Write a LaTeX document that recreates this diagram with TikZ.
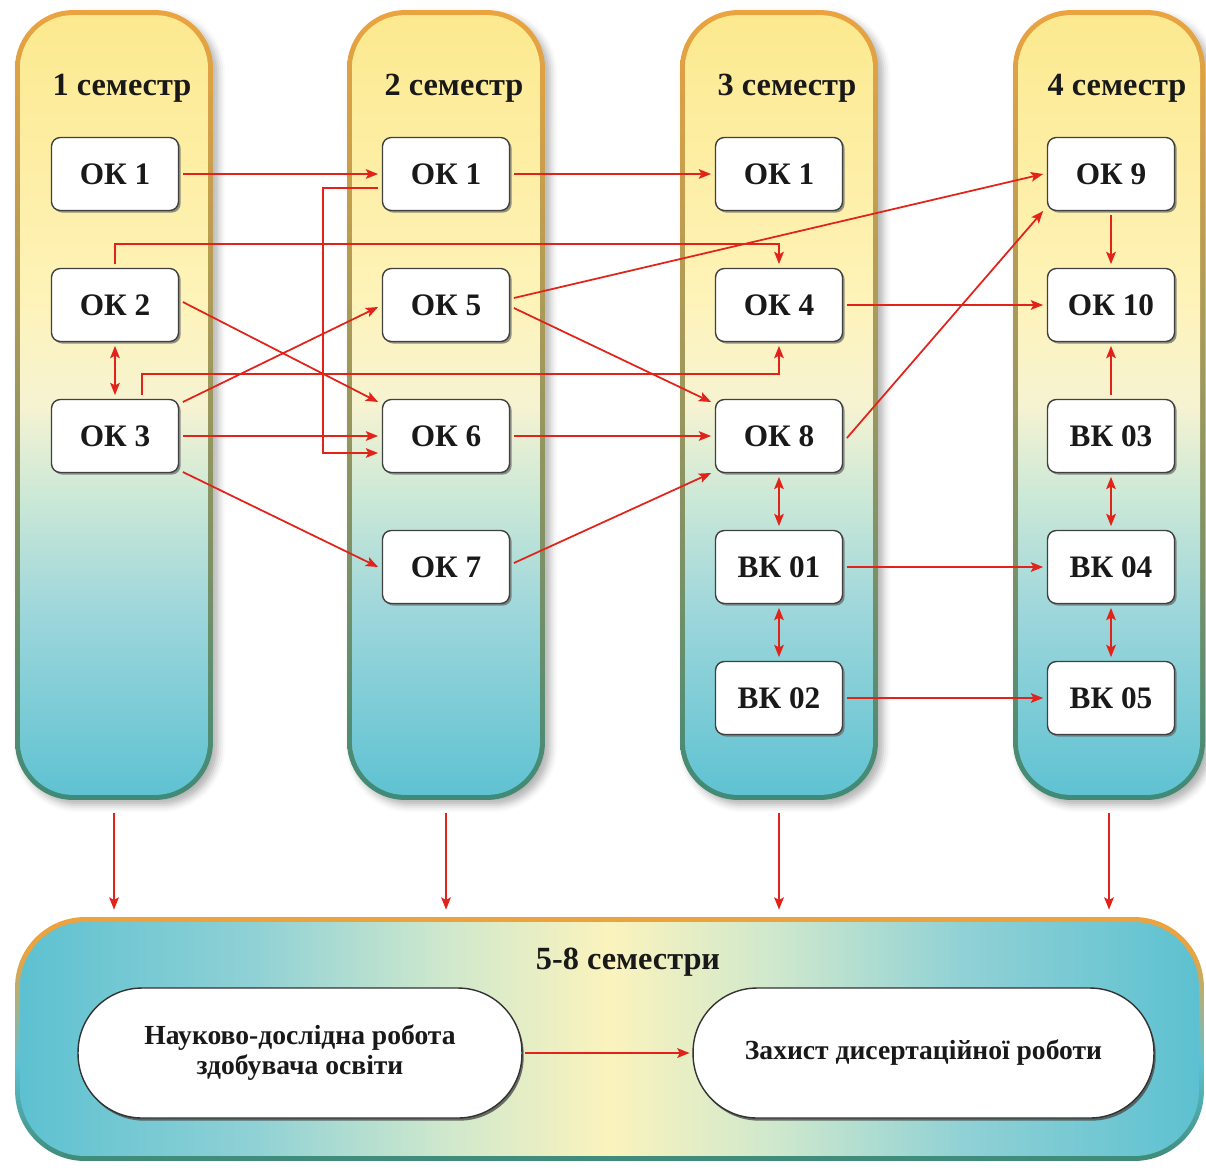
\documentclass[tikz,border=0pt]{standalone}
\usepackage{fontspec}
\setmainfont{Liberation Serif}
\usetikzlibrary{positioning,arrows.meta,shadows,shadows.blur}

\definecolor{arrred}{HTML}{E2231A}
\definecolor{cyellow}{HTML}{FCE98F}
\definecolor{clyellow}{HTML}{FEF3B8}
\definecolor{ccream}{HTML}{F6F3D2}
\definecolor{cpgreen}{HTML}{CBE8D7}
\definecolor{clblue}{HTML}{9FD7DB}
\definecolor{cteal}{HTML}{5FC2D2}
\definecolor{rimorange}{HTML}{EBA33F}
\definecolor{rimolive}{HTML}{A89A58}
\definecolor{rimmid}{HTML}{7C9166}
\definecolor{rimgreen}{HTML}{3F8A77}
\definecolor{bteal}{HTML}{5DC1D1}
\definecolor{blteal}{HTML}{90D1D5}
\definecolor{bpgreen}{HTML}{CFE8CD}
\definecolor{byellow}{HTML}{FBF3BD}

% shadings: the path fills the range 25bp..75bp
\pgfdeclareverticalshading{colshade}{100bp}{color(0bp)=(cteal); color(25bp)=(cteal); color(37bp)=(clblue); color(44bp)=(cpgreen); color(50bp)=(ccream); color(57bp)=(clyellow); color(75bp)=(cyellow); color(100bp)=(cyellow)}
\pgfdeclareverticalshading{rimshade}{100bp}{color(0bp)=(rimgreen); color(25bp)=(rimgreen); color(40bp)=(rimmid); color(55bp)=(rimolive); color(75bp)=(rimorange); color(100bp)=(rimorange)}
\pgfdeclarehorizontalshading{botshade}{100bp}{color(0bp)=(bteal); color(25bp)=(bteal); color(35bp)=(blteal); color(43bp)=(bpgreen); color(50bp)=(byellow); color(57bp)=(bpgreen); color(65bp)=(blteal); color(75bp)=(bteal); color(100bp)=(bteal)}
\pgfdeclareverticalshading{botrim}{100bp}{color(0bp)=(rimgreen); color(25bp)=(rimgreen); color(45bp)=(bteal); color(68bp)=(rimorange); color(100bp)=(rimorange)}

\begin{document}
\begin{tikzpicture}[x=0.02cm, y=-0.02cm
	,rim/.style={shading=rimshade, rounded corners=1.16cm, minimum height=15.8cm,
		blur shadow={shadow xshift=3pt, shadow yshift=-3pt, shadow blur radius=4pt, shadow opacity=30}}
	,semcol/.style={shading=colshade, rounded corners=1.06cm, minimum height=15.6cm}
	,head/.style={font=\fontsize{18.4}{21}\selectfont\bfseries, text=black!90}
	,ok/.style={draw=black!75, line width=0.8pt, fill=white, rounded corners=5pt,
		minimum width=2.54cm, minimum height=1.46cm, outer sep=2.5pt,
		font=\fontsize{17.8}{20}\selectfont\bfseries, text=black!90,
		drop shadow={shadow xshift=1.2pt, shadow yshift=-1.2pt, opacity=0.7, fill=black!60}}
	,pill/.style={draw=black!80, line width=0.8pt, fill=white, rounded corners=1.28cm,
		minimum height=2.6cm, align=center, outer sep=2pt,
		font=\fontsize{15.7}{17}\selectfont\bfseries, text=black!90,
		drop shadow={shadow xshift=1pt, shadow yshift=-1.5pt, opacity=0.8, fill=black!70}}
	,arr/.style={-{Stealth[length=7pt,width=5.5pt,inset=1.5pt]}, draw=arrred, line width=1pt}
	,biarr/.style={{Stealth[length=7pt,width=5.5pt,inset=1.5pt]}-{Stealth[length=7pt,width=5.5pt,inset=1.5pt]}, draw=arrred, line width=1pt}
	]
\useasboundingbox (0,0) rectangle (1206,1167);

% semester columns
\foreach \n/\x/\w/\v in {1/114/3.96/3.76, 2/446/3.96/3.76, 3/779/3.96/3.76, 4/1109/3.84/3.64} {
	\node[rim, minimum width=\w cm] (sem\n) at (\x,405) {};
	\node[semcol, minimum width=\v cm] at (\x,405) {};
	\node[head] at (\x+8,88) {\n\ семестр};
}

% bottom block
\node[shading=botrim, rounded corners=1.4cm, minimum width=23.78cm, minimum height=4.88cm] (sem58) at (609.5,1039) {};
\node[shading=botshade, rounded corners=1.3cm, minimum width=23.58cm, minimum height=4.68cm] at (609.5,1039) {};
\node[head] at (628,962) {5-8 семестри};
\node[pill, minimum width=8.88cm] (nauk) at (300,1053) {Науково-дослідна робота\\здобувача освіти};
\node[pill, minimum width=9.22cm] (zakh) at (923.5,1053) {Захист дисертаційної роботи};

% 1 семестр
\node[ok] (c1ok1) at (115,174) {ОК 1};
\node[ok] (c1ok2) at (115,305) {ОК 2};
\node[ok] (c1ok3) at (115,436) {ОК 3};
% 2 семестр
\node[ok] (c2ok1) at (446,174) {ОК 1};
\node[ok] (c2ok5) at (446,305) {ОК 5};
\node[ok] (c2ok6) at (446,436) {ОК 6};
\node[ok] (c2ok7) at (446,567) {ОК 7};
% 3 семестр
\node[ok] (c3ok1) at (779,174) {ОК 1};
\node[ok] (c3ok4) at (779,305) {ОК 4};
\node[ok] (c3ok8) at (779,436) {ОК 8};
\node[ok] (c3vk01) at (779,567) {ВК 01};
\node[ok] (c3vk02) at (779,698) {ВК 02};
% 4 семестр
\node[ok] (c4ok9) at (1111,174) {ОК 9};
\node[ok] (c4ok10) at (1111,305) {ОК 10};
\node[ok] (c4vk03) at (1111,436) {ВК 03};
\node[ok] (c4vk04) at (1111,567) {ВК 04};
\node[ok] (c4vk05) at (1111,698) {ВК 05};

% links
\draw[arr] (c1ok1.east) -- (c2ok1.west);
\draw[arr] (c2ok1.east) -- (c3ok1.west);
\draw[arr] ([shift={(0,14)}]c2ok1.west) -- ++(-55,0) |- ([shift={(0,17)}]c2ok6.west);
\draw[arr] (c1ok2.north) -- ++(0,-20) -| (c3ok4.north);
\draw[arr] ([shift={(27,0)}]c1ok3.north) -- ++(0,-21) -| (c3ok4.south);
\draw[biarr] (c1ok2.south) -- (c1ok3.north);
\draw[arr] ([shift={(0,-3)}]c1ok2.east) -- ([shift={(0,-34)}]c2ok6.west);
\draw[arr] ([shift={(0,-34)}]c1ok3.east) -- ([shift={(0,2)}]c2ok5.west);
\draw[arr] (c1ok3.east) -- (c2ok6.west);
\draw[arr] ([shift={(0,36)}]c1ok3.east) -- (c2ok7.west);
\draw[arr] ([shift={(0,-7)}]c2ok5.east) -- (c4ok9.west);
\draw[arr] ([shift={(0,3)}]c2ok5.east) -- ([shift={(0,-34)}]c3ok8.west);
\draw[arr] (c2ok6.east) -- (c3ok8.west);
\draw[arr] ([shift={(0,-4)}]c2ok7.east) -- ([shift={(0,37)}]c3ok8.west);
\draw[arr] (c3ok4.east) -- (c4ok10.west);
\draw[arr] ([shift={(0,2)}]c3ok8.east) -- ([shift={(0,37)}]c4ok9.west);
\draw[arr] (c4ok9.south) -- (c4ok10.north);
\draw[arr] (c4vk03.north) -- (c4ok10.south);
\draw[biarr] (c4vk03.south) -- (c4vk04.north);
\draw[biarr] (c4vk04.south) -- (c4vk05.north);
\draw[biarr] (c3ok8.south) -- (c3vk01.north);
\draw[biarr] (c3vk01.south) -- (c3vk02.north);
\draw[arr] (c3vk01.east) -- (c4vk04.west);
\draw[arr] (c3vk02.east) -- (c4vk05.west);

% down to 5-8 semesters
\foreach \n in {1,...,4}
	\draw[arr, shorten <=7pt, shorten >=4pt] (sem\n.south) -- (sem\n.south |- sem58.north);
\draw[arr] (nauk.east) -- (zakh.west);
\end{tikzpicture}
\end{document}
